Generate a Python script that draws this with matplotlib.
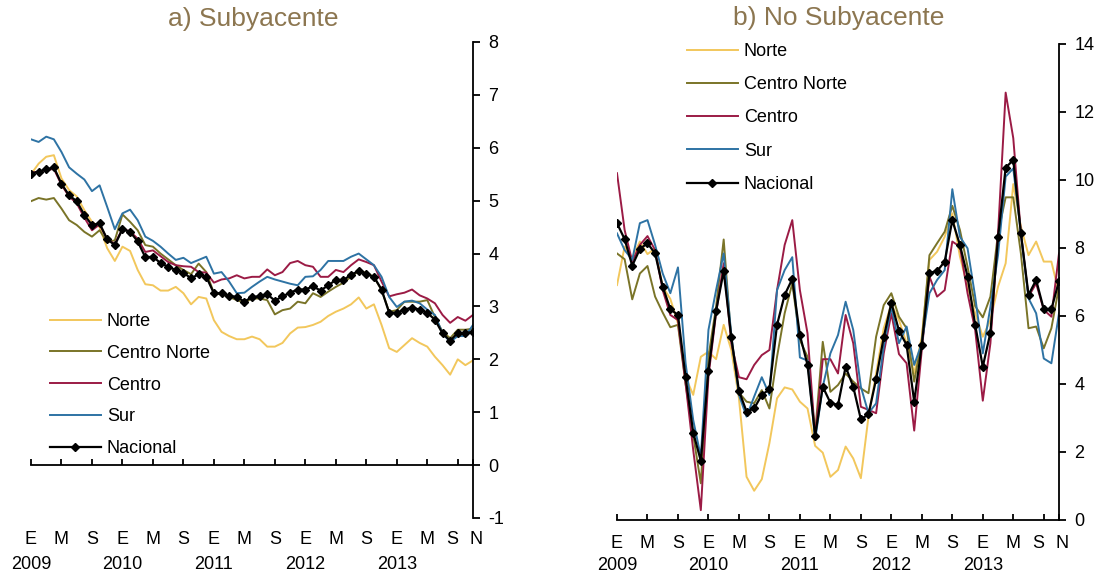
import matplotlib
matplotlib.use("Agg")
import matplotlib.pyplot as plt
from matplotlib.lines import Line2D
import numpy as np

plt.rcParams['font.family'] = ['Liberation Sans', 'DejaVu Sans']
plt.rcParams['axes.unicode_minus'] = False

# monthly series, Jan 2009 - Nov 2013 (59 months)
meses = np.arange(59)

# a) Subyacente
sub_norte = [5.50, 5.70, 5.83, 5.86, 5.42, 5.20, 5.08, 4.82, 4.60, 4.50, 4.10, 3.86, 4.13, 4.05, 3.69,
             3.42, 3.40, 3.30, 3.30, 3.37, 3.25, 3.04, 3.18, 3.15, 2.74, 2.52, 2.44, 2.38, 2.38, 2.43,
             2.38, 2.24, 2.24, 2.31, 2.49, 2.60, 2.61, 2.65, 2.71, 2.82, 2.90, 2.96, 3.04, 3.17, 2.96,
             3.04, 2.65, 2.21, 2.14, 2.27, 2.40, 2.31, 2.24, 2.05, 1.89, 1.71, 2.00, 1.89, 1.98]
sub_centro_norte = [4.99, 5.05, 5.02, 5.05, 4.85, 4.63, 4.54, 4.41, 4.32, 4.44, 4.22, 4.25, 4.74, 4.60, 4.44,
                    4.16, 4.13, 4.00, 3.89, 3.78, 3.69, 3.61, 3.81, 3.65, 3.25, 3.23, 3.18, 3.12, 3.07, 3.15,
                    3.15, 3.12, 2.85, 2.93, 2.96, 3.09, 3.06, 3.25, 3.18, 3.28, 3.37, 3.45, 3.56, 3.67, 3.64,
                    3.56, 3.31, 2.90, 2.93, 3.09, 3.09, 3.09, 3.12, 2.80, 2.52, 2.40, 2.56, 2.56, 2.58]
sub_centro = [5.53, 5.55, 5.58, 5.60, 5.30, 5.08, 4.95, 4.68, 4.44, 4.55, 4.27, 4.18, 4.47, 4.42, 4.28,
              4.03, 4.06, 3.95, 3.84, 3.78, 3.76, 3.75, 3.65, 3.64, 3.45, 3.51, 3.53, 3.59, 3.53, 3.56,
              3.56, 3.70, 3.59, 3.65, 3.82, 3.86, 3.78, 3.75, 3.56, 3.56, 3.69, 3.65, 3.78, 3.89, 3.84,
              3.78, 3.47, 3.19, 3.23, 3.26, 3.32, 3.21, 3.15, 3.06, 2.84, 2.69, 2.80, 2.73, 2.84]
sub_sur = [6.16, 6.11, 6.21, 6.16, 5.92, 5.63, 5.51, 5.40, 5.18, 5.29, 4.88, 4.46, 4.76, 4.83, 4.63,
           4.32, 4.24, 4.13, 4.00, 3.88, 3.92, 3.82, 3.88, 3.94, 3.62, 3.65, 3.47, 3.25, 3.26, 3.37,
           3.47, 3.56, 3.51, 3.47, 3.43, 3.40, 3.56, 3.57, 3.69, 3.86, 3.86, 3.86, 3.94, 4.00, 3.89,
           3.78, 3.56, 3.18, 2.99, 3.09, 3.11, 3.06, 2.94, 2.84, 2.49, 2.33, 2.44, 2.44, 2.65]
sub_nacional = [5.51, 5.55, 5.59, 5.63, 5.32, 5.10, 4.99, 4.73, 4.54, 4.57, 4.27, 4.16, 4.46, 4.41, 4.23,
                3.93, 3.94, 3.82, 3.75, 3.69, 3.64, 3.53, 3.61, 3.56, 3.25, 3.25, 3.20, 3.18, 3.09, 3.18,
                3.19, 3.23, 3.11, 3.19, 3.26, 3.32, 3.32, 3.38, 3.30, 3.40, 3.50, 3.50, 3.60, 3.67, 3.61,
                3.56, 3.32, 2.88, 2.88, 2.94, 2.98, 2.94, 2.88, 2.75, 2.49, 2.35, 2.50, 2.49, 2.52]

# b) No Subyacente
nosub_norte = [6.91, 8.04, 7.70, 8.19, 7.82, 7.99, 6.86, 6.50, 5.78, 4.20, 3.68, 4.80, 4.95, 4.73, 5.74,
               5.00, 3.58, 1.27, 0.86, 1.20, 2.26, 3.58, 3.90, 3.84, 3.48, 3.28, 2.18, 1.98, 1.27, 1.47,
               2.16, 1.81, 1.23, 3.04, 4.31, 5.64, 6.35, 5.88, 5.20, 4.31, 5.39, 7.65, 7.89, 8.33, 9.02,
               7.75, 6.86, 6.08, 5.39, 5.88, 6.86, 7.55, 9.88, 8.63, 7.79, 8.19, 7.60, 7.60, 6.67]
nosub_centro_norte = [7.84, 7.67, 6.49, 7.25, 7.47, 6.57, 6.10, 5.67, 5.74, 4.00, 2.50, 1.08, 4.80, 6.27, 8.25,
                      5.29, 3.75, 3.48, 3.43, 3.82, 3.28, 4.80, 6.08, 6.96, 5.29, 4.80, 2.55, 5.24, 3.77, 3.97,
                      4.31, 4.07, 3.87, 3.73, 5.39, 6.32, 6.67, 5.98, 5.64, 4.07, 5.29, 7.79, 8.14, 8.48, 9.24,
                      8.53, 7.45, 6.29, 5.96, 6.57, 8.43, 9.49, 9.49, 7.84, 5.64, 5.69, 5.05, 5.64, 6.86]
nosub_centro = [10.20, 8.53, 7.60, 8.09, 8.35, 7.94, 6.76, 6.03, 5.88, 4.02, 2.06, 0.29, 4.22, 6.08, 7.55,
                5.20, 4.20, 4.14, 4.56, 4.85, 5.00, 6.76, 8.09, 8.82, 6.76, 5.49, 2.45, 4.73, 4.73, 4.31,
                6.03, 5.20, 3.33, 3.24, 3.14, 4.90, 6.08, 4.88, 4.61, 2.63, 5.02, 7.16, 6.57, 6.76, 8.19,
                8.04, 6.67, 5.59, 3.51, 5.20, 8.43, 12.57, 11.23, 8.43, 6.57, 6.96, 6.18, 5.98, 7.84]
nosub_sur = [8.43, 7.94, 7.65, 8.73, 8.82, 8.09, 7.25, 6.67, 7.43, 4.61, 2.94, 1.86, 5.59, 6.76, 7.84,
             5.44, 3.68, 3.04, 3.63, 4.20, 3.68, 6.76, 7.35, 7.73, 4.78, 4.69, 2.35, 3.92, 4.90, 5.44,
             6.42, 5.59, 3.92, 3.14, 3.43, 5.10, 6.27, 5.20, 5.69, 4.56, 5.20, 6.67, 7.06, 7.35, 9.73,
             8.33, 7.99, 6.57, 4.90, 6.27, 7.79, 10.10, 10.34, 8.43, 6.52, 6.08, 4.75, 4.61, 6.08]
nosub_nacional = [8.73, 8.26, 7.48, 7.97, 8.14, 7.84, 6.86, 6.20, 6.03, 4.20, 2.57, 1.74, 4.39, 6.15, 7.32,
                  5.37, 3.80, 3.19, 3.28, 3.68, 3.84, 5.74, 6.62, 7.09, 5.44, 4.56, 2.48, 3.92, 3.45, 3.38,
                  4.51, 3.92, 2.96, 3.11, 4.14, 5.37, 6.39, 5.57, 5.15, 3.48, 5.15, 7.27, 7.32, 7.60, 8.82,
                  8.09, 7.16, 5.74, 4.51, 5.51, 8.31, 10.36, 10.59, 8.43, 6.62, 7.06, 6.20, 6.20, 7.03]

regiones = ['Norte', 'Centro Norte', 'Centro', 'Sur', 'Nacional']
colores = ['#F2C75C', '#7A7428', '#9B1B45', '#2E73A4', '#000000']

tick_pos = [0, 4, 8, 12, 16, 20, 24, 28, 32, 36, 40, 44, 48, 52, 56, 58]
mes_pos = [0, 4, 8, 12, 16, 20, 24, 28, 32, 36, 40, 44, 48, 52, 55.3, 58.4]
mes_lbl = ['E', 'M', 'S', 'E', 'M', 'S', 'E', 'M', 'S', 'E', 'M', 'S', 'E', 'M', 'S', 'N']
anio_pos = [0, 12, 24, 36, 48]
anio_lbl = ['2009', '2010', '2011', '2012', '2013']

W, H = 1102, 575
fig = plt.figure(figsize=(W / 100, H / 100), dpi=100)
titulo_color = '#8C7650'
fs = 13


def panel(rect, series, ylim, yticks, titulo, title_xy, leg_xy, leg_space, mes_y, anio_y, zero_spine):
    x0, y0, x1, y1 = rect
    ax = fig.add_axes([x0 / W, 1 - y1 / H, (x1 - x0) / W, (y1 - y0) / H])
    for s, c, name in zip(series, colores, regiones):
        if name == 'Nacional':
            ax.plot(meses, s, color=c, lw=1.6, marker='D', ms=4.5, zorder=5)
        else:
            ax.plot(meses, s, color=c, lw=1.4)
    ax.set_xlim(0, 58)
    ax.set_ylim(*ylim)
    ax.set_yticks(yticks)
    ax.set_yticklabels([str(v) for v in yticks])
    ax.yaxis.tick_right()
    ax.spines['left'].set_visible(False)
    ax.spines['top'].set_visible(False)
    if zero_spine:
        ax.spines['bottom'].set_position(('data', 0))
    for sp in ('bottom', 'right'):
        ax.spines[sp].set_linewidth(1.3)
    ax.set_xticks(tick_pos)
    ax.set_xticklabels([])
    ax.tick_params(axis='x', direction='in', length=4, width=1.3)
    ax.tick_params(axis='y', direction='out', length=5, width=1.3, labelsize=fs, pad=6)

    tr = ax.get_xaxis_transform()
    for p, l in zip(mes_pos, mes_lbl):
        ax.text(p, mes_y, l, transform=tr, ha='center', va='center', fontsize=fs, clip_on=False)
    for p, l in zip(anio_pos, anio_lbl):
        ax.text(p, anio_y, l, transform=tr, ha='center', va='center', fontsize=fs, clip_on=False)

    fig.text(title_xy[0] / W, 1 - title_xy[1] / H, titulo, ha='center', va='center',
             fontsize=19, color=titulo_color)

    handles = []
    for c, name in zip(colores, regiones):
        if name == 'Nacional':
            handles.append(Line2D([], [], color=c, lw=1.6, marker='D', ms=4))
        else:
            handles.append(Line2D([], [], color=c, lw=1.4))
    ax.legend(handles, regiones, loc='upper left',
              bbox_to_anchor=(leg_xy[0] / W, 1 - leg_xy[1] / H), bbox_transform=fig.transFigure,
              frameon=False, fontsize=fs, handlelength=2.8, handletextpad=0.35,
              labelspacing=leg_space, borderpad=0, borderaxespad=0)
    return ax


panel((31, 42, 473, 518),
      [sub_norte, sub_centro_norte, sub_centro, sub_sur, sub_nacional],
      (-1, 8), list(range(-1, 9)), 'a) Subyacente', (253, 19), (50, 313), 0.82,
      -0.046, -0.098, True)

panel((617, 44, 1059, 520),
      [nosub_norte, nosub_centro_norte, nosub_centro, nosub_sur, nosub_nacional],
      (0, 14), list(range(0, 15, 2)), 'b) No Subyacente', (839, 18), (687, 43), 0.9,
      -0.05, -0.096, False)

fig.savefig('out.png', dpi=100)
